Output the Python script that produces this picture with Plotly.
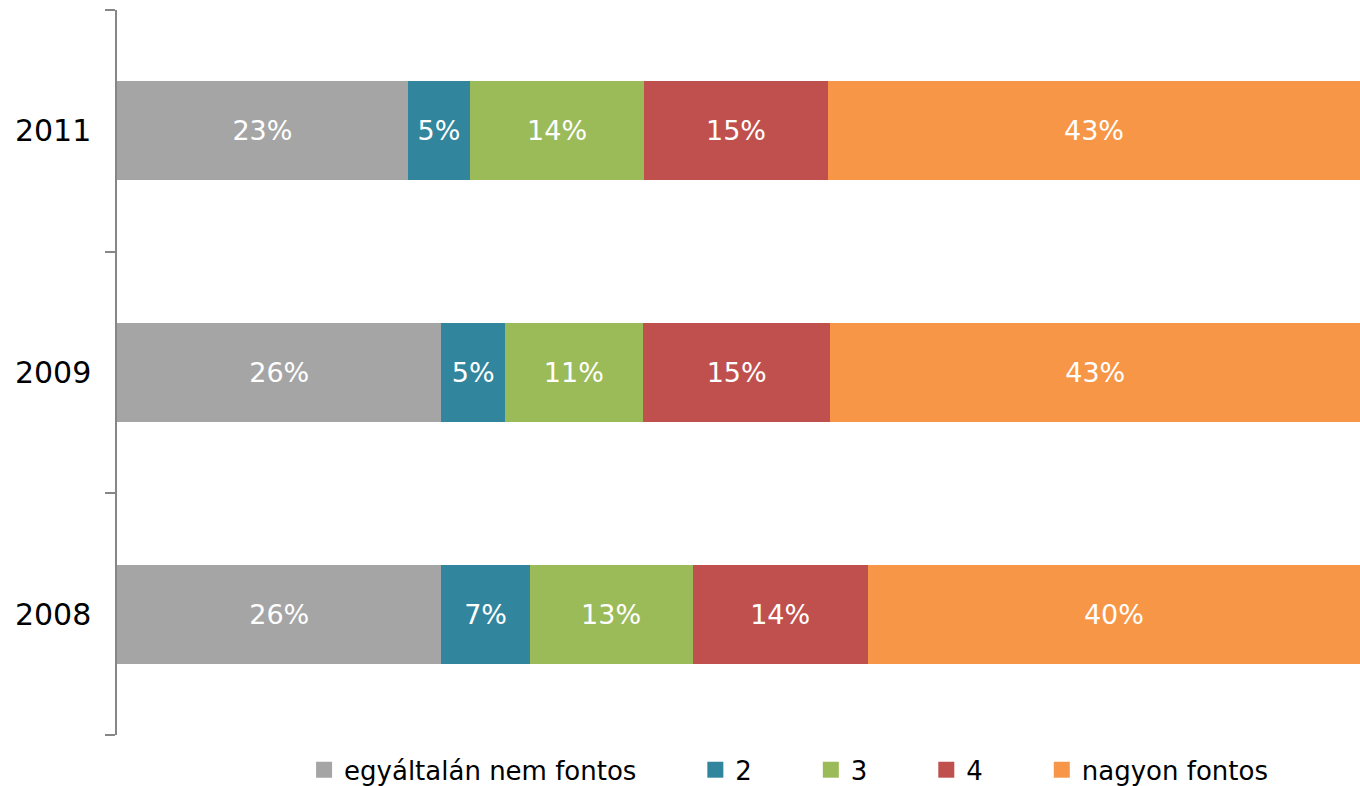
import plotly.graph_objects as go

years = ["2008", "2009", "2011"]
series_names = ["egyáltalán nem fontos", "2", "3", "4", "nagyon fontos"]
v_not_important = [26.1, 26.1, 23.4]
v_2 = [7.1, 5.1, 5.0]
v_3 = [13.1, 11.1, 14.0]
v_4 = [14.1, 15.1, 14.8]
v_very_important = [39.6, 42.6, 42.8]
series_values = [v_not_important, v_2, v_3, v_4, v_very_important]
colors = ["#A5A5A5", "#31859C", "#9BBB59", "#C0504D", "#F79646"]

FONT = "DejaVu Sans, Liberation Sans, Arial, sans-serif"
PAD = "\u00a0" * 6 + "\u2006"

fig = go.Figure()
for name, vals, col in zip(series_names, series_values, colors):
    fig.add_trace(go.Bar(
        y=years, x=vals, orientation="h", name=name,
        marker=dict(color=col, line=dict(width=0)),
        texttemplate="%{x:.0f}%", textposition="inside",
        insidetextanchor="middle",
        textfont=dict(color="white", size=27, family=FONT),
        showlegend=False, hoverinfo="skip",
    ))
# legend entries with larger square symbols
for name, col in zip(series_names, colors):
    fig.add_trace(go.Scatter(
        x=[None], y=[None], mode="markers", name=name + PAD,
        marker=dict(symbol="square", size=17, color=col),
        showlegend=True,
    ))

fig.update_layout(
    width=1360, height=786,
    barmode="stack", bargap=0.59,
    plot_bgcolor="white", paper_bgcolor="white",
    margin=dict(l=117, r=0, t=10, b=51, autoexpand=False),
    font=dict(family=FONT, size=26, color="black"),
    legend=dict(orientation="h", x=0.1505, xanchor="left", y=-0.048,
                yanchor="middle", font=dict(size=26, family=FONT),
                traceorder="normal"),
    uniformtext=dict(minsize=20, mode="show"),
)
fig.update_xaxes(range=[0, 100], visible=False, showgrid=False)
fig.update_yaxes(
    type="category", categoryorder="array", categoryarray=years,
    showline=True, linecolor="#868686", linewidth=1.5,
    ticks="outside", ticklen=10, tickcolor="#868686", tickwidth=1.5,
    tickson="boundaries", showgrid=False, ticklabelstandoff=18,
    tickfont=dict(size=30, color="black", family=FONT),
)

fig.write_html("out.html", config={"displayModeBar": False},
               post_script="document.body.style.margin='0';document.body.style.overflow='hidden';")
